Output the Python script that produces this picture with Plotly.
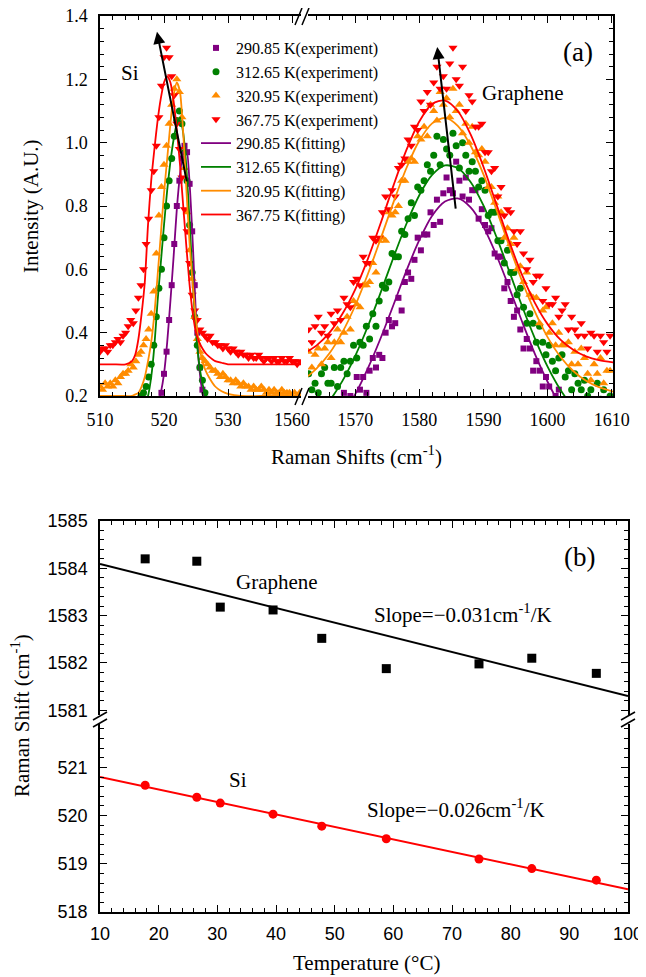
import numpy as np
import plotly.graph_objects as go

# ------------------------------------------------------------------
# Panel (a): Raman spectra
# ------------------------------------------------------------------
# spectrometer sampling grids (cm^-1)
si_shift = np.round(np.arange(510.0, 541.21, 0.4), 2)       # 79 samples
gr_shift = np.round(np.arange(1562.75, 1609.76, 0.5), 2)     # 95 samples

temps_K = ["290.85", "312.65", "320.95", "367.75"]

# experimental intensities, Si band (order: 290.85, 312.65, 320.95, 367.75 K)
si_exp_29085 = [0.12,0.13,0.12,0.13,0.12,0.13,0.12,0.13,0.12,0.13, 0.12,0.13,0.12,0.13,0.12,0.13,0.13,0.13,0.13,0.14,
                0.14,0.14,0.15,0.17,0.21,0.27,0.34,0.44,0.55,0.68, 0.80,0.88,0.95,0.99,0.97,0.87,0.72,0.55,0.40,0.29,
                0.22,0.18,0.15,0.13,0.12,0.13,0.12,0.13,0.12,0.13, 0.12,0.13,0.12,0.13,0.12,0.13,0.12,0.13,0.12,0.13,
                0.12,0.13,0.12,0.13,0.12,0.13,0.12,0.13,0.12,0.13, 0.12,0.13,0.12,0.13,0.12,0.13,0.12,0.13,0.12]
si_exp_31265 = [0.14,0.14,0.13,0.14,0.14,0.14,0.15,0.14,0.15,0.15, 0.15,0.15,0.16,0.16,0.17,0.18,0.20,0.21,0.23,0.26,
                0.30,0.36,0.45,0.54,0.60,0.70,0.80,0.88,0.95,1.02, 1.07,1.10,1.06,0.97,0.88,0.74,0.59,0.45,0.36,0.29,
                0.25,0.21,0.19,0.17,0.16,0.15,0.14,0.15,0.14,0.15, 0.14,0.15,0.14,0.15,0.14,0.15,0.14,0.15,0.14,0.15,
                0.14,0.15,0.14,0.15,0.14,0.15,0.14,0.15,0.14,0.15, 0.14,0.15,0.14,0.15,0.14,0.15,0.14,0.15,0.14]
si_exp_32095 = [0.23,0.22,0.24,0.23,0.24,0.23,0.25,0.24,0.26,0.27, 0.27,0.28,0.30,0.29,0.31,0.33,0.34,0.36,0.38,0.41,
                0.46,0.53,0.65,0.77,0.86,0.93,0.99,1.06,1.12,1.17, 1.20,1.16,1.08,0.92,0.78,0.66,0.57,0.45,0.38,0.34,
                0.32,0.31,0.30,0.29,0.28,0.28,0.27,0.26,0.27,0.26, 0.25,0.25,0.24,0.25,0.24,0.23,0.24,0.23,0.23,0.22,
                0.23,0.22,0.22,0.23,0.22,0.21,0.22,0.21,0.22,0.21, 0.21,0.22,0.21,0.21,0.21,0.20,0.21,0.20,0.21]
si_exp_36775 = [0.34,0.35,0.35,0.34,0.36,0.36,0.37,0.38,0.37,0.39, 0.40,0.42,0.44,0.43,0.47,0.51,0.55,0.60,0.68,0.76,
                0.85,0.91,0.99,1.08,1.18,1.27,1.30,1.27,1.21,1.15, 1.06,0.98,0.89,0.79,0.72,0.62,0.52,0.47,0.44,0.41,
                0.40,0.39,0.38,0.39,0.37,0.37,0.36,0.36,0.35,0.36, 0.35,0.34,0.35,0.34,0.33,0.34,0.33,0.33,0.32,0.33,
                0.32,0.32,0.33,0.32,0.31,0.32,0.32,0.31,0.32,0.31, 0.31,0.32,0.31,0.31,0.32,0.31,0.31,0.30,0.31]

# experimental intensities, graphene G band
gr_exp_29085 = [0.16,0.12,0.10,0.16,0.18,0.12,0.16,0.11,0.18,0.16, 0.16,0.21,0.17,0.20,0.17,0.26,0.22,0.26,0.21,0.28,
                0.32,0.29,0.33,0.32,0.40,0.44,0.42,0.43,0.51,0.47, 0.56,0.59,0.57,0.63,0.70,0.66,0.71,0.71,0.78,0.74,
                0.82,0.75,0.84,0.89,0.85,0.84,0.94,0.88,0.83,0.89, 0.82,0.85,0.85,0.76,0.79,0.74,0.72,0.73,0.65,0.64,
                0.64,0.54,0.56,0.50,0.45,0.47,0.41,0.35,0.38,0.35, 0.28,0.31,0.28,0.23,0.26,0.23,0.17,0.20,0.22,0.15,
                0.16,0.12,0.18,0.13,0.16,0.11,0.16,0.11,0.08,0.14, 0.12,0.08,0.15,0.10,0.08]
gr_exp_31265 = [0.27,0.22,0.24,0.21,0.27,0.29,0.24,0.24,0.29,0.23, 0.29,0.31,0.27,0.31,0.36,0.32,0.37,0.36,0.42,0.38,
                0.46,0.42,0.50,0.55,0.54,0.56,0.65,0.64,0.64,0.72, 0.71,0.76,0.81,0.77,0.86,0.85,0.88,0.93,0.91,0.96,
                1.02,0.93,1.01,0.98,0.96,1.03,0.99,0.92,1.00,0.96, 0.91,0.94,0.91,0.86,0.88,0.85,0.77,0.78,0.78,0.69,
                0.69,0.62,0.66,0.59,0.59,0.52,0.54,0.48,0.43,0.46, 0.43,0.37,0.42,0.37,0.33,0.36,0.31,0.28,0.32,0.33,
                0.26,0.28,0.22,0.27,0.24,0.22,0.25,0.20,0.22,0.18, 0.24,0.19,0.22,0.15,0.20]
gr_exp_32095 = [0.34,0.29,0.33,0.35,0.30,0.35,0.37,0.32,0.37,0.41, 0.37,0.40,0.45,0.41,0.50,0.49,0.48,0.55,0.55,0.56,
                0.62,0.59,0.69,0.70,0.69,0.78,0.77,0.78,0.80,0.88, 0.88,0.94,0.95,0.94,1.02,1.01,1.05,1.02,1.12,1.10,
                1.07,1.16,1.12,1.14,1.08,1.17,1.10,1.12,1.03,1.06, 1.00,1.05,0.97,0.96,0.98,0.94,0.86,0.86,0.81,0.83,
                0.78,0.70,0.73,0.68,0.70,0.60,0.61,0.56,0.59,0.52, 0.51,0.51,0.43,0.47,0.48,0.40,0.43,0.36,0.40,0.36,
                0.36,0.37,0.30,0.34,0.30,0.35,0.32,0.27,0.25,0.30, 0.27,0.32,0.24,0.28,0.28]
gr_exp_36775 = [0.41,0.37,0.42,0.45,0.40,0.42,0.39,0.46,0.43,0.47, 0.44,0.51,0.49,0.48,0.56,0.57,0.55,0.64,0.62,0.62,
                0.70,0.69,0.70,0.78,0.83,0.79,0.85,0.83,0.92,0.93, 0.95,1.01,0.99,1.05,1.04,1.13,1.10,1.16,1.12,1.19,
                1.24,1.17,1.21,1.17,1.25,1.30,1.20,1.18,1.24,1.10, 1.15,1.13,1.05,1.05,1.06,0.97,0.97,0.91,0.92,0.83,
                0.86,0.77,0.79,0.78,0.72,0.68,0.72,0.65,0.60,0.63, 0.56,0.58,0.58,0.50,0.54,0.49,0.49,0.51,0.45,0.47,
                0.49,0.41,0.45,0.41,0.39,0.43,0.39,0.35,0.40,0.39, 0.34,0.39,0.37,0.34,0.39]

# fitted curves at these shifts
si_fit_shift = [510, 512, 514, 515, 515.5, 516, 516.5, 517, 517.5, 518, 518.5, 519, 519.5, 520, 520.5, 521,
                521.5, 522, 522.5, 523, 523.5, 524, 524.5, 525, 525.5, 526, 526.5, 527, 528, 529, 530, 532,
                535, 538, 541.4]
si_fit_29085 = [0.10,0.10,0.10,0.10,0.10,0.10,0.11,0.11,0.12,0.13,0.15,0.17,0.21,0.27,0.37,0.50,
                0.64,0.79,0.90,0.97,0.98,0.87,0.68,0.45,0.29,0.21,0.16,0.13,0.11,0.10,0.10,0.10,
                0.10,0.10,0.10]
si_fit_31265 = [0.12,0.12,0.12,0.12,0.13,0.14,0.15,0.17,0.20,0.26,0.36,0.50,0.62,0.74,0.85,0.94,
                1.01,1.06,1.08,1.03,0.92,0.75,0.56,0.40,0.30,0.24,0.20,0.17,0.14,0.13,0.12,0.12,
                0.12,0.12,0.12]
si_fit_32095 = [0.20,0.20,0.20,0.20,0.205,0.21,0.23,0.26,0.31,0.37,0.46,0.58,0.71,0.84,0.95,1.06,
                1.15,1.19,1.16,1.03,0.85,0.68,0.55,0.44,0.36,0.31,0.28,0.26,0.23,0.215,0.207,0.20,
                0.20,0.20,0.20]
si_fit_36775 = [0.30,0.30,0.30,0.31,0.33,0.38,0.46,0.56,0.74,0.88,0.98,1.07,1.14,1.19,1.21,1.19,
                1.13,1.04,0.93,0.80,0.67,0.55,0.46,0.40,0.37,0.35,0.335,0.325,0.31,0.305,0.30,0.30,
                0.30,0.30,0.30]

gr_fit_shift = [1562.6, 1564, 1566, 1568, 1570, 1572, 1574, 1576, 1578, 1580, 1582, 1584, 1586, 1588,
                1590, 1592, 1594, 1596, 1598, 1600, 1602, 1604, 1606, 1608, 1610.2]
gr_fit_29085 = [0.040,0.057,0.092,0.140,0.205,0.288,0.384,0.489,0.596,0.692,0.769,0.814,0.824,0.796,
                0.734,0.646,0.543,0.436,0.334,0.245,0.171,0.114,0.073,0.044,0.024]
gr_fit_31265 = [0.114,0.138,0.185,0.247,0.326,0.421,0.528,0.639,0.744,0.834,0.898,0.928,0.920,0.876,
                0.802,0.704,0.595,0.485,0.383,0.293,0.220,0.164,0.123,0.095,0.075]
gr_fit_32095 = [0.262,0.287,0.335,0.401,0.485,0.586,0.698,0.813,0.920,1.006,1.061,1.078,1.053,0.991,
                0.900,0.790,0.675,0.564,0.467,0.386,0.324,0.279,0.248,0.228,0.214]
gr_fit_36775 = [0.341,0.360,0.400,0.459,0.536,0.634,0.747,0.866,0.977,1.067,1.122,1.133,1.100,1.026,
                0.924,0.807,0.689,0.583,0.495,0.427,0.378,0.346,0.325,0.313,0.306]

intensity_ticks = [0.2, 0.4, 0.6, 0.8, 1.0, 1.2, 1.4]

# ------------------------------------------------------------------
# Panel (b): peak position vs temperature
# ------------------------------------------------------------------
temperature_C = [17.7, 26.5, 30.5, 39.5, 47.8, 58.8, 74.6, 83.6, 94.6]
graphene_peak = [1584.20, 1584.15, 1583.18, 1583.12, 1582.52, 1581.88, 1581.98, 1582.10, 1581.78]
si_peak = [520.63, 520.38, 520.26, 520.03, 519.78, 519.52, 519.10, 518.90, 518.66]
fit_T = [10, 100]
graphene_fit = [1584.09, 1581.30]
si_fit_line = [520.80, 518.47]

# ------------------------------------------------------------------
# styling
# ------------------------------------------------------------------
SERIF = "Liberation Serif, Times New Roman, serif"
SANS = "Liberation Sans, Arial, sans-serif"
PAGE_W, PAGE_H = 646, 977
OFF = 8                       # the page body keeps an 8 px margin
W, H = PAGE_W - OFF, PAGE_H - OFF
colors = ["#800080", "#008000", "#FF8C00", "#FF0000"]
symbols = ["square", "circle", "triangle-up", "triangle-down"]
msizes = [6, 7, 8, 8]

si_exp = [si_exp_29085, si_exp_31265, si_exp_32095, si_exp_36775]
gr_exp = [gr_exp_29085, gr_exp_31265, gr_exp_32095, gr_exp_36775]
si_fit = [si_fit_29085, si_fit_31265, si_fit_32095, si_fit_36775]
gr_fit = [gr_fit_29085, gr_fit_31265, gr_fit_32095, gr_fit_36775]

fig = go.Figure()
for i in range(4):
    fig.add_trace(go.Scatter(x=si_shift, y=si_exp[i], mode="markers", xaxis="x", yaxis="y",
                             name=f"{temps_K[i]} K(experiment)",
                             marker=dict(symbol=symbols[i], color=colors[i], size=msizes[i], line=dict(width=0))))
for i in range(4):
    fig.add_trace(go.Scatter(x=si_fit_shift, y=si_fit[i], mode="lines", xaxis="x", yaxis="y",
                             name=f"{temps_K[i]} K(fitting)",
                             line=dict(color=colors[i], width=1.8, shape="spline", smoothing=0.6)))
for i in range(4):
    fig.add_trace(go.Scatter(x=gr_shift, y=gr_exp[i], mode="markers", xaxis="x2", yaxis="y2", showlegend=False,
                             marker=dict(symbol=symbols[i], color=colors[i], size=msizes[i], line=dict(width=0))))
for i in range(4):
    fig.add_trace(go.Scatter(x=gr_fit_shift, y=gr_fit[i], mode="lines", xaxis="x2", yaxis="y2", showlegend=False,
                             line=dict(color=colors[i], width=1.8, shape="spline", smoothing=0.8)))

# panel (b)
fig.add_trace(go.Scatter(x=fit_T, y=graphene_fit, mode="lines", xaxis="x4", yaxis="y4", showlegend=False,
                         line=dict(color="black", width=2)))
fig.add_trace(go.Scatter(x=temperature_C, y=graphene_peak, mode="markers", xaxis="x4", yaxis="y4",
                         showlegend=False, marker=dict(symbol="square", color="black", size=9)))
fig.add_trace(go.Scatter(x=fit_T, y=si_fit_line, mode="lines", xaxis="x3", yaxis="y3", showlegend=False,
                         line=dict(color="#FF0000", width=2)))
fig.add_trace(go.Scatter(x=temperature_C, y=si_peak, mode="markers", xaxis="x3", yaxis="y3",
                         showlegend=False, marker=dict(symbol="circle", color="#FF0000", size=9)))


def px_x(p):
    return (p - OFF) / W


def px_y(p):
    return 1 - (p - OFF) / H


AX = dict(showline=True, linecolor="black", linewidth=1.5, ticks="inside", ticklen=7, tickwidth=1.2,
          tickcolor="black", showgrid=False, zeroline=False, automargin=False, ticklabeloverflow="allow")


def minor(dt, t0):
    return dict(ticks="inside", ticklen=4, tickwidth=1, tickcolor="black", dtick=dt, tick0=t0, showgrid=False)


yA = [px_y(396), px_y(16)]
yB_low = [px_y(912), px_y(724)]
yB_up = [px_y(715), px_y(521)]
xB = [px_x(100), px_x(628)]

fig.update_layout(
    width=W, height=H, margin=dict(l=0, r=0, t=0, b=0, autoexpand=False),
    paper_bgcolor="white", plot_bgcolor="white",
    font=dict(family=SERIF, color="black"),
    showlegend=True,
    legend=dict(x=px_x(196), y=px_y(31), xanchor="left", yanchor="top", bgcolor="rgba(0,0,0,0)",
                font=dict(family=SERIF, size=16, color="black"), tracegroupgap=0),
    xaxis=dict(domain=[px_x(100), px_x(301)], range=[510, 541.4], anchor="y",
               tickvals=[510, 520, 530, 540], ticktext=["510", "520", "530", "1560"],
               mirror="ticks", minor=minor(2, 510), tickfont=dict(family=SERIF, size=18),
               ticklabelstandoff=7, **AX),
    xaxis2=dict(domain=[px_x(308), px_x(613)], range=[1562.65, 1610.2], anchor="y2",
                tickvals=[1570, 1580, 1590, 1600, 1610], mirror="ticks", minor=minor(2, 1560),
                tickfont=dict(family=SERIF, size=18), ticklabelstandoff=7, **AX),
    yaxis=dict(domain=yA, range=[0.2, 1.4], anchor="x", tickvals=intensity_ticks, tickformat=".1f",
               minor=minor(0.04, 0.2), tickfont=dict(family=SERIF, size=18), ticklabelstandoff=7, **AX),
    yaxis2=dict(domain=yA, range=[0.2, 1.4], anchor="x2", side="right", tickvals=intensity_ticks,
                showticklabels=False, minor=minor(0.04, 0.2), **AX),
    xaxis3=dict(domain=xB, range=[10, 100], anchor="y3", dtick=10, tick0=10, minor=minor(2, 10),
                tickfont=dict(family=SANS, size=18), ticklabelstandoff=5, **AX),
    xaxis4=dict(domain=xB, range=[10, 100], anchor="y4", side="top", dtick=10, tick0=10, minor=minor(2, 10),
                showticklabels=False, **AX),
    yaxis3=dict(domain=yB_low, range=[518, 521.9], anchor="x3", dtick=1, tick0=518, minor=minor(0.2, 518),
                mirror="ticks", tickfont=dict(family=SANS, size=18), ticklabelstandoff=7, **AX),
    yaxis4=dict(domain=yB_up, range=[1580.9, 1585], anchor="x4", dtick=1, tick0=1581, minor=minor(0.2, 1581),
                mirror="ticks", tickfont=dict(family=SANS, size=18), ticklabelstandoff=7, **AX),
)

# axis break marks
breaks = [
    ((295, 25), (302, 8)), ((302, 25), (309, 8)),
    ((295, 405), (302, 388)), ((302, 405), (309, 388)),
    ((93, 720), (107, 712)), ((93, 727), (107, 719)),
    ((621, 720), (635, 712)), ((621, 727), (635, 719)),
]
for (x0, y0), (x1, y1) in breaks:
    fig.add_shape(type="line", xref="paper", yref="paper", x0=px_x(x0), y0=px_y(y0), x1=px_x(x1), y1=px_y(y1),
                  line=dict(color="black", width=1.5))

C = dict(xanchor="center", yanchor="middle", showarrow=False)
ann = []
# axis titles
ann.append(dict(text="Intensity (A.U.)", x=px_x(31), y=px_y(206), xref="paper", yref="paper",
                textangle=-90, font=dict(family=SERIF, size=21), **C))
ann.append(dict(text="Raman Shifts (cm<sup>-1</sup>)", x=px_x(356), y=px_y(455), xref="paper", yref="paper",
                font=dict(family=SERIF, size=21), **C))
ann.append(dict(text="Raman Shift (cm<sup>-1</sup>)", x=px_x(20), y=px_y(716), xref="paper", yref="paper",
                textangle=-90, font=dict(family=SERIF, size=21), **C))
ann.append(dict(text="Temperature (°C)", x=px_x(366), y=px_y(963), xref="paper", yref="paper",
                font=dict(family=SERIF, size=21), **C))
# panel (a) labels
ann.append(dict(text="Si", x=514.7, y=1.22, xref="x", yref="y", font=dict(family=SERIF, size=21), **C))
ann.append(dict(text="Graphene", x=1596.2, y=1.157, xref="x2", yref="y2", font=dict(family=SERIF, size=21), **C))
ann.append(dict(text="(a)", x=1604.8, y=1.286, xref="x2", yref="y2", font=dict(family=SERIF, size=27), **C))
# arrows
ann.append(dict(text="", x=518.9, y=1.35, xref="x", yref="y", ax=523.6, ay=0.873, axref="x", ayref="y",
                showarrow=True, arrowhead=2, arrowsize=1.2, arrowwidth=2, arrowcolor="black"))
ann.append(dict(text="", x=1582.8, y=1.302, xref="x2", yref="y2", ax=1585.7, ay=0.787, axref="x2", ayref="y2",
                showarrow=True, arrowhead=2, arrowsize=1.2, arrowwidth=2, arrowcolor="black"))
# panel (b) labels
ann.append(dict(text="(b)", x=91.8, y=1584.24, xref="x4", yref="y4", font=dict(family=SERIF, size=27), **C))
ann.append(dict(text="Graphene", x=40.2, y=1583.71, xref="x4", yref="y4", font=dict(family=SERIF, size=21), **C))
ann.append(dict(text="Slope=\u22120.031cm<sup>-1</sup>/K", x=71.9, y=1583.05, xref="x4", yref="y4",
                font=dict(family=SERIF, size=21), **C))
ann.append(dict(text="Si", x=33.6, y=520.74, xref="x3", yref="y3", font=dict(family=SERIF, size=21), **C))
ann.append(dict(text="Slope=\u22120.026cm<sup>-1</sup>/K", x=70.6, y=520.14, xref="x3", yref="y3",
                font=dict(family=SERIF, size=21), **C))
fig.update_layout(annotations=ann)

fig.write_html("out.html")
